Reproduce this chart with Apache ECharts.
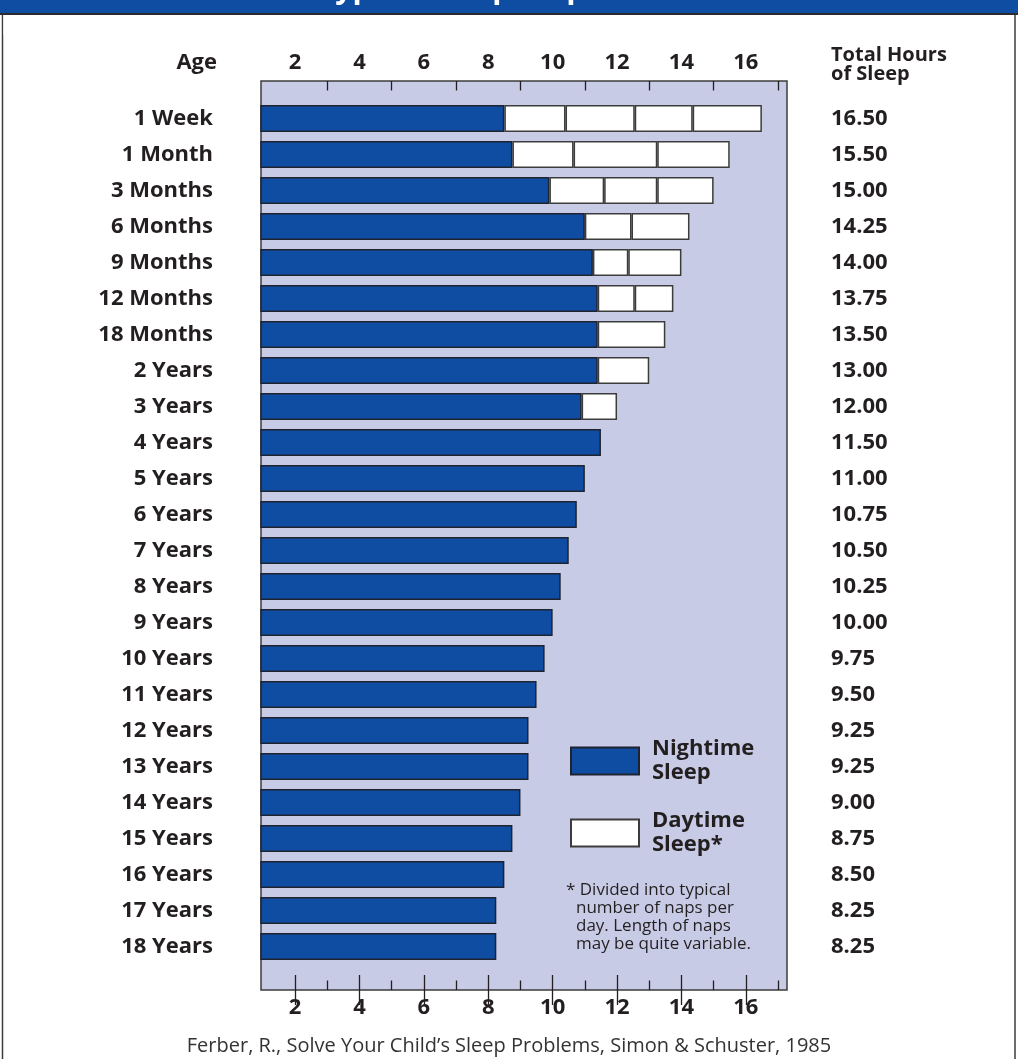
<!DOCTYPE html>
<html>
<head>
<meta charset="utf-8">
<title>Typical Sleep Requirements in Childhood</title>
<script src="https://cdn.jsdelivr.net/npm/echarts@6/dist/echarts.min.js"></script>
<style>
  html, body { margin: 0; padding: 0; background: #ffffff; }
  #chart { width: 1018px; height: 1059px; }
</style>
</head>
<body>
<div id="chart"></div>
<script>
// Age groups, top to bottom
const ages = ['1 Week', '1 Month', '3 Months', '6 Months', '9 Months', '12 Months',
  '18 Months', '2 Years', '3 Years', '4 Years', '5 Years', '6 Years', '7 Years',
  '8 Years', '9 Years', '10 Years', '11 Years', '12 Years', '13 Years', '14 Years',
  '15 Years', '16 Years', '17 Years', '18 Years'];

// Total hours of sleep per day (right-hand column)
const totalHours = [16.5, 15.5, 15, 14.25, 14, 13.75, 13.5, 13, 12, 11.5, 11, 10.75,
  10.5, 10.25, 10, 9.75, 9.5, 9.25, 9.25, 9, 8.75, 8.5, 8.25, 8.25];

// Nighttime sleep (hours)
const nightSleep = [8.5, 8.75, 9.9, 11, 11.25, 11.4, 11.4, 11.4, 10.9, 11.5, 11, 10.75,
  10.5, 10.25, 10, 9.75, 9.5, 9.25, 9.25, 9, 8.75, 8.5, 8.25, 8.25];

// Daytime naps (hours), one array per nap of the day
const nap1 = [1.9, 1.9, 1.7, 1.45, 1.1, 1.15, 2.1, 1.6, 1.1];
const nap2 = [2.15, 2.6, 1.65, 1.8, 1.65, 1.2];
const nap3 = [1.8, 2.25, 1.75];
const nap4 = [2.15];

// Axis ticks
const majorTicks = [2, 4, 6, 8, 10, 12, 14, 16];
const minorTicks = [3, 5, 7, 9, 11, 13, 15, 17];

const FONT = '"Open Sans", "Liberation Sans", Arial, sans-serif';
const INK = '#231f20';
const NIGHT_BLUE = '#0e4da1';
const PANEL = '#c8cbe6';
const EDGE = '#3c3c3c';

// Hour scale shared by every x axis
const X_MIN = 0.94, X_MAX = 17.28;

// Frame (shaded panel) and data area
const panel = { left: 261, top: 81, width: 526, height: 909 };
const plot = { left: 261, top: 100.5, width: 526, height: 864 };

function pad(arr) {
  return ages.map((_, i) => (i < arr.length ? arr[i] : '-'));
}

const chart = echarts.init(document.getElementById('chart'), null, { renderer: 'canvas' });

function hourAxis(gridIndex, position, ticks, tickLen, showLabel) {
  return {
    type: 'value', gridIndex: gridIndex, position: position,
    min: X_MIN, max: X_MAX,
    axisLine: { show: false },
    splitLine: { show: false },
    axisTick: {
      show: true, inside: true, length: tickLen, customValues: ticks,
      lineStyle: { color: INK, width: 1.3 }
    },
    axisLabel: {
      show: showLabel, customValues: ticks, margin: 7,
      fontFamily: FONT, fontWeight: 'bold', fontSize: 22, color: INK
    }
  };
}

const napStyle = { color: '#ffffff', borderColor: EDGE, borderWidth: 1.5 };

function napSeries(arr) {
  return {
    name: 'Daytime Sleep*', type: 'bar', stack: 'sleep',
    xAxisIndex: 4, yAxisIndex: 1, barWidth: 27,
    itemStyle: napStyle, data: pad(arr), silent: true
  };
}

const option = {
  animation: false,
  backgroundColor: '#ffffff',
  grid: [
    Object.assign({
      show: true, backgroundColor: PANEL, borderColor: EDGE, borderWidth: 1.5,
      outerBoundsMode: 'none'
    }, panel),
    Object.assign({ show: false, outerBoundsMode: 'none' }, plot)
  ],
  xAxis: [
    hourAxis(0, 'top', majorTicks, 15, true),
    hourAxis(0, 'top', minorTicks, 9.5, false),
    hourAxis(0, 'bottom', majorTicks, 15, true),
    hourAxis(0, 'bottom', minorTicks, 9.5, false),
    { type: 'value', gridIndex: 1, min: X_MIN, max: X_MAX, show: false }
  ],
  yAxis: [
    { type: 'value', gridIndex: 0, min: 0, max: 1, show: false },
    {
      type: 'category', gridIndex: 1, data: ages, inverse: true,
      axisLine: { show: false }, axisTick: { show: false },
      axisLabel: {
        margin: 48, fontFamily: FONT, fontWeight: 'bold', fontSize: 22, color: INK
      }
    },
    {
      type: 'category', gridIndex: 1, data: ages, inverse: true, position: 'right',
      axisLine: { show: false }, axisTick: { show: false },
      axisLabel: {
        margin: 44, align: 'left',
        fontFamily: FONT, fontWeight: 'bold', fontSize: 22, color: INK,
        formatter: (v, i) => totalHours[i].toFixed(2)
      }
    }
  ],
  legend: {
    orient: 'vertical', left: 570, top: 737, padding: 0,
    itemWidth: 68, itemHeight: 27, itemGap: 24, selectedMode: false,
    icon: 'rect',
    data: ['Nightime Sleep', 'Daytime Sleep*'],
    formatter: name => name.replace(' ', '\n'),
    textStyle: {
      fontFamily: FONT, fontWeight: 'bold', fontSize: 22, lineHeight: 24,
      color: INK, padding: [0, 0, 0, 8]
    }
  },
  series: [
    {
      name: 'Nightime Sleep', type: 'bar', stack: 'sleep',
      xAxisIndex: 4, yAxisIndex: 1, barWidth: 27, silent: true,
      itemStyle: { color: NIGHT_BLUE, borderColor: '#1e2330', borderWidth: 1.5 },
      data: nightSleep
    },
    napSeries(nap1),
    napSeries(nap2),
    napSeries(nap3),
    napSeries(nap4)
  ],
  graphic: [
    // page frame
    { type: 'rect', shape: { x: 2.5, y: 13, width: 1012.5, height: 1060 },
      style: { fill: 'none', stroke: EDGE, lineWidth: 1.5 }, z: 1, silent: true },
    // banner
    { type: 'rect', shape: { x: 0, y: 0, width: 1018, height: 13 },
      style: { fill: NIGHT_BLUE }, z: 2, silent: true },
    { type: 'text', left: 318, top: -26, z: 3, silent: true,
      style: { text: 'Typical Sleep Requirements in Childhood', fill: '#ffffff',
        font: 'bold 30px ' + FONT } },
    { type: 'rect', shape: { x: 0, y: 13, width: 1018, height: 2 },
      style: { fill: '#2b2b2b' }, z: 4, silent: true },
    // white cover under the banner so the title only shows inside it
    { type: 'rect', shape: { x: 3.5, y: 15, width: 1010.5, height: 20 },
      style: { fill: '#ffffff' }, z: 2, silent: true },
    // column headers
    { type: 'text', x: 217, y: 63, z: 5, silent: true,
      style: { text: 'Age', fill: INK, font: 'bold 22px ' + FONT,
        align: 'right', verticalAlign: 'middle' } },
    { type: 'text', x: 831, y: 65, z: 5, silent: true,
      style: { text: 'Total Hours\nof Sleep', fill: INK, font: 'bold 20px ' + FONT,
        lineHeight: 19, align: 'left', verticalAlign: 'middle' } },
    // footnote inside the panel
    { type: 'text', x: 566, y: 890, z: 5, silent: true,
      style: { text: '* Divided into typical', fill: INK, font: '17px ' + FONT,
        align: 'left', verticalAlign: 'middle' } },
    { type: 'text', x: 576, y: 926, z: 5, silent: true,
      style: { text: 'number of naps per\nday. Length of naps\nmay be quite variable.',
        fill: INK, font: '17px ' + FONT, lineHeight: 18,
        align: 'left', verticalAlign: 'middle' } },
    // source line
    { type: 'text', x: 509, y: 1046, z: 5, silent: true,
      style: { text: 'Ferber, R., Solve Your Child\u2019s Sleep Problems, Simon & Schuster, 1985',
        fill: '#333333', font: '20px ' + FONT, align: 'center', verticalAlign: 'middle' } }
  ]
};

chart.setOption(option);
</script>
</body>
</html>
